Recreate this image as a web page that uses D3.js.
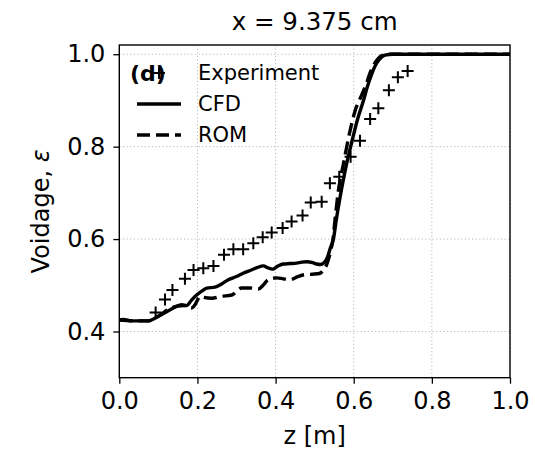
<!DOCTYPE html>
<html>
<head>
<meta charset="utf-8">
<script src="https://cdn.jsdelivr.net/npm/d3@7"></script>
<style>
  body { margin: 0; background: #fff; }
  text { font-family: "DejaVu Sans", sans-serif; }
</style>
</head>
<body>
<script>
const width = 535;
const height = 451;

// experiment (+ markers)
const expZ = [0.093, 0.117, 0.136, 0.168, 0.190, 0.215, 0.241, 0.268, 0.292, 0.317, 0.343, 0.367, 0.390, 0.418,
  0.441, 0.469, 0.490, 0.518, 0.539, 0.563, 0.592, 0.616, 0.642, 0.663, 0.690, 0.713, 0.738];
const expE = [0.441, 0.469, 0.490, 0.514, 0.533, 0.537, 0.542, 0.566, 0.578, 0.578, 0.591, 0.604, 0.614, 0.624,
  0.638, 0.651, 0.679, 0.681, 0.721, 0.735, 0.778, 0.813, 0.860, 0.883, 0.922, 0.950, 0.964];

// CFD (solid)
const cfdZ = [0, 0.01, 0.03, 0.05, 0.074, 0.100, 0.120, 0.138, 0.160, 0.172, 0.185, 0.198, 0.212, 0.224, 0.245,
  0.262, 0.279, 0.300, 0.322, 0.338, 0.352, 0.369, 0.380, 0.392, 0.405, 0.420, 0.437, 0.454, 0.467, 0.480, 0.495,
  0.505, 0.514, 0.524, 0.532, 0.540, 0.548, 0.556, 0.565, 0.575, 0.585, 0.595, 0.610, 0.625, 0.635, 0.645, 0.655,
  0.665, 0.680, 0.700, 0.750, 1.0];
const cfdE = [0.425, 0.426, 0.423, 0.423, 0.423, 0.433, 0.442, 0.451, 0.458, 0.456, 0.468, 0.479, 0.488, 0.494, 0.496,
  0.503, 0.512, 0.519, 0.528, 0.533, 0.538, 0.542, 0.538, 0.535, 0.541, 0.546, 0.547, 0.548, 0.550, 0.551, 0.549,
  0.546, 0.545, 0.549, 0.559, 0.580, 0.600, 0.645, 0.690, 0.735, 0.775, 0.810, 0.860, 0.900, 0.930, 0.955, 0.975,
  0.988, 0.998, 1.0, 1.0, 1.0];

// ROM (dashed)
const romZ = [0, 0.05, 0.074, 0.100, 0.130, 0.150, 0.165, 0.175, 0.185, 0.194, 0.200, 0.207, 0.215, 0.237, 0.260,
  0.288, 0.313, 0.335, 0.356, 0.368, 0.381, 0.403, 0.420, 0.437, 0.455, 0.475, 0.495, 0.514, 0.522, 0.529, 0.535,
  0.541, 0.547, 0.552, 0.561, 0.573, 0.590, 0.603, 0.620, 0.632, 0.642, 0.652, 0.663, 0.675, 0.690, 0.750, 1.0];
const romE = [0.425, 0.423, 0.423, 0.433, 0.450, 0.455, 0.456, 0.453, 0.451, 0.458, 0.468, 0.476, 0.474, 0.472, 0.476,
  0.479, 0.494, 0.494, 0.492, 0.500, 0.512, 0.516, 0.514, 0.512, 0.518, 0.523, 0.524, 0.526, 0.533, 0.541, 0.555,
  0.575, 0.600, 0.641, 0.706, 0.760, 0.832, 0.876, 0.911, 0.935, 0.960, 0.978, 0.991, 0.998, 1.0, 1.0, 1.0];

const xTicks = [0, 0.2, 0.4, 0.6, 0.8, 1.0];
const yTicks = [0.4, 0.6, 0.8, 1.0];

// plot box in pixels
const plotL = 119.3, plotR = 510, plotT = 45, plotB = 377.7;

const svg = d3.select("body").append("svg")
  .attr("width", width)
  .attr("height", height);

const x = d3.scaleLinear().domain([0, 1]).range([plotL, plotR]);
const y = d3.scaleLinear().domain([0.3, 1.02]).range([plotB, plotT]);

// dotted grid
svg.append("g").selectAll("line").data(xTicks).join("line")
  .attr("x1", d => x(d)).attr("x2", d => x(d))
  .attr("y1", plotT).attr("y2", plotB)
  .attr("stroke", "#b8b8b8").attr("stroke-width", 1).attr("stroke-dasharray", "1.2,2.4");
svg.append("g").selectAll("line").data(yTicks).join("line")
  .attr("x1", plotL).attr("x2", plotR)
  .attr("y1", d => y(d)).attr("y2", d => y(d))
  .attr("stroke", "#b8b8b8").attr("stroke-width", 1).attr("stroke-dasharray", "1.2,2.4");

// clip for the curves
svg.append("clipPath").attr("id", "plot")
  .append("rect").attr("x", plotL).attr("y", plotT).attr("width", plotR - plotL).attr("height", plotB - plotT);

const path = d3.line().x(d => x(d[0])).y(d => y(d[1])).curve(d3.curveMonotoneX);

const plot = svg.append("g").attr("clip-path", "url(#plot)");

plot.append("path")
  .datum(d3.zip(romZ, romE))
  .attr("d", path)
  .attr("fill", "none").attr("stroke", "#000").attr("stroke-width", 3.4)
  .attr("stroke-dasharray", "13,6");

plot.append("path")
  .datum(d3.zip(cfdZ, cfdE))
  .attr("d", path)
  .attr("fill", "none").attr("stroke", "#000").attr("stroke-width", 3.4);

const plusPath = (cx, cy, r) => `M${cx - r},${cy}H${cx + r}M${cx},${cy - r}V${cy + r}`;

svg.append("g").selectAll("path").data(d3.zip(expZ, expE)).join("path")
  .attr("d", d => plusPath(x(d[0]), y(d[1]), 6))
  .attr("stroke", "#000").attr("stroke-width", 2).attr("fill", "none");

// axes
const xAxis = svg.append("g")
  .attr("transform", `translate(0,${plotB})`)
  .call(d3.axisBottom(x).tickValues(xTicks).tickFormat(d3.format(".1f")).tickSize(6).tickPadding(8));
const yAxis = svg.append("g")
  .attr("transform", `translate(${plotL},0)`)
  .call(d3.axisLeft(y).tickValues(yTicks).tickFormat(d3.format(".1f")).tickSize(6).tickPadding(8));

[xAxis, yAxis].forEach(a => {
  a.select(".domain").remove();
  a.selectAll("line").attr("stroke", "#000").attr("stroke-width", 1.3);
  a.selectAll("text").attr("font-size", 24).attr("fill", "#000")
    .style("font-family", "DejaVu Sans");
});

// frame
svg.append("rect")
  .attr("x", plotL).attr("y", plotT).attr("width", plotR - plotL).attr("height", plotB - plotT)
  .attr("fill", "none").attr("stroke", "#000").attr("stroke-width", 1.4);

// titles
svg.append("text")
  .attr("x", (plotL + plotR) / 2).attr("y", 30)
  .attr("text-anchor", "middle").attr("font-size", 24.5)
  .text("x = 9.375 cm");

svg.append("text")
  .attr("x", (plotL + plotR) / 2).attr("y", 444)
  .attr("text-anchor", "middle").attr("font-size", 24)
  .text("z [m]");

const yl = svg.append("text")
  .attr("transform", `translate(49,${(plotT + plotB) / 2}) rotate(-90)`)
  .attr("text-anchor", "middle").attr("font-size", 24)
yl.append("tspan").text("Voidage, ");
yl.append("tspan").attr("font-style", "italic").text("ε");

// legend
const legX = 159;
const legend = [
  { label: "Experiment", y: 73, kind: "plus" },
  { label: "CFD", y: 104, kind: "solid" },
  { label: "ROM", y: 135, kind: "dashed" }
];

svg.append("text")
  .attr("x", 130).attr("y", 81)
  .attr("font-size", 22).attr("font-weight", "bold")
  .text("(d)");

legend.forEach(l => {
  if (l.kind === "plus") {
    svg.append("path").attr("d", plusPath(legX, l.y, 6))
      .attr("stroke", "#000").attr("stroke-width", 2);
  } else {
    svg.append("line")
      .attr("x1", legX - 22).attr("x2", legX + 22)
      .attr("y1", l.y).attr("y2", l.y)
      .attr("stroke", "#000").attr("stroke-width", 3.4)
      .attr("stroke-dasharray", l.kind === "dashed" ? "13,6" : null);
  }
  svg.append("text")
    .attr("x", 198).attr("y", l.y + 7)
    .attr("font-size", 21)
    .text(l.label);
});
</script>
</body>
</html>
